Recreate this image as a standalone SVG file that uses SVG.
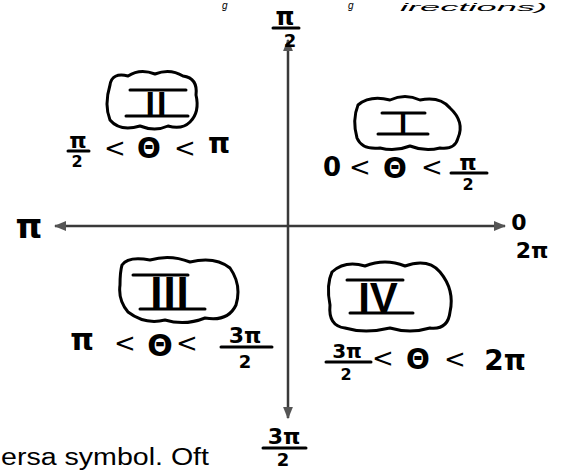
<svg xmlns="http://www.w3.org/2000/svg" width="563" height="471" viewBox="0 0 563 471">
<style>
.t{font-family:"DejaVu Sans","Liberation Sans",sans-serif;font-weight:bold;fill:#000;text-anchor:middle}
.lt{font-family:"DejaVu Sans","Liberation Sans",sans-serif;fill:#000;text-anchor:middle}
.r{font-family:"Liberation Sans",sans-serif;font-weight:bold;fill:#000;text-anchor:middle}
.bar{stroke:#000;stroke-width:3;stroke-linecap:round}
.cloud{fill:none;stroke:#000;stroke-width:3;stroke-linejoin:round}
.axis{stroke:#3a3a3a;stroke-width:2.5;fill:none}
.pg{font-family:"Liberation Sans",sans-serif;fill:#000}
</style>
<defs>
<marker id="ah" viewBox="0 0 10 10" refX="9" refY="5" markerWidth="5" markerHeight="5" orient="auto-start-reverse">
<path d="M0,1 L10,5 L0,9 Z" fill="#555"/>
</marker>
</defs>
<rect width="563" height="471" fill="#fff"/>
<g id="page-text">
<text class="pg" x="222" y="9" font-size="10" font-style="italic">g</text>
<text class="pg" x="348" y="9" font-size="10" font-style="italic">g</text>
<text class="pg" x="400" y="11" font-size="11" font-style="italic" textLength="147" lengthAdjust="spacingAndGlyphs">irections)</text>
<text class="pg" x="1" y="465" font-size="23" textLength="208" lengthAdjust="spacingAndGlyphs">ersa symbol. Oft</text>
</g>
<g id="connectors">
<line class="axis" x1="288" y1="40" x2="288" y2="418" marker-start="url(#ah)" marker-end="url(#ah)"/>
<line class="axis" x1="55" y1="226" x2="505" y2="226" marker-start="url(#ah)" marker-end="url(#ah)"/>
</g>
<g id="label-top">
<text class="t" x="285" y="25" font-size="24">π</text>
<line class="bar" x1="273" y1="28" x2="299" y2="28"/>
<text class="t" x="290" y="47" font-size="18">2</text>
</g>
<g id="label-left"><text class="t" x="29" y="238" font-size="34">π</text></g>
<g id="label-right">
<text class="t" x="519" y="230" font-size="22">0</text>
<text class="t" x="532" y="258" font-size="22">2π</text>
</g>
<g id="label-bottom">
<text class="t" x="284" y="444" font-size="22">3π</text>
<line class="bar" x1="263" y1="448" x2="306" y2="448"/>
<text class="t" x="283" y="466" font-size="18">2</text>
</g>
<g id="quadrant-II">
<path class="cloud" d="M110,85 Q112,72 128,76 Q140,68 155,74 Q170,68 183,76 Q198,78 196,95 Q200,112 190,122 Q182,130 168,126 Q155,132 140,126 Q120,132 110,120 Q104,105 110,85 Z"/>
<line class="bar" x1="130" y1="90" x2="186" y2="90"/>
<line class="bar" x1="126" y1="116" x2="188" y2="116"/>
<text class="r" x="157" y="115" font-size="34" letter-spacing="2">II</text>
<text class="t" x="78" y="148" font-size="22">π</text>
<line class="bar" x1="68" y1="151" x2="89" y2="151"/>
<text class="t" x="77" y="167" font-size="16">2</text>
<text class="lt" x="115" y="157" font-size="26">&lt;</text>
<text class="t" x="149" y="158" font-size="28">Θ</text>
<text class="lt" x="185" y="157" font-size="26">&lt;</text>
<text class="t" x="219" y="153" font-size="28">π</text>
</g>
<g id="quadrant-I">
<path class="cloud" d="M358,105 Q370,95 390,100 Q405,93 420,100 Q440,96 450,108 Q465,122 458,138 Q455,150 440,148 Q425,152 410,146 Q395,152 380,148 Q362,150 357,138 Q352,120 358,105 Z"/>
<line class="bar" x1="382" y1="113" x2="425" y2="113"/>
<line class="bar" x1="378" y1="134" x2="428" y2="134"/>
<text class="r" x="403" y="133" font-size="29">I</text>
<text class="t" x="332" y="176" font-size="26">0</text>
<text class="lt" x="360" y="176" font-size="26">&lt;</text>
<text class="t" x="395" y="178" font-size="28">Θ</text>
<text class="lt" x="432" y="176" font-size="26">&lt;</text>
<text class="t" x="468" y="170" font-size="22">π</text>
<line class="bar" x1="451" y1="173" x2="487" y2="173"/>
<text class="t" x="468" y="190" font-size="16">2</text>
</g>
<g id="quadrant-III">
<path class="cloud" d="M122,265 Q128,256 150,260 Q170,254 190,262 Q215,256 230,268 Q242,285 236,305 Q228,322 205,318 Q185,326 165,320 Q145,325 128,312 Q118,300 120,285 Q120,272 122,265 Z"/>
<line class="bar" x1="133" y1="275" x2="188" y2="275"/>
<line class="bar" x1="140" y1="309" x2="205" y2="309"/>
<text class="r" x="170" y="308" font-size="44" letter-spacing="1">III</text>
<text class="t" x="82" y="350" font-size="30">π</text>
<text class="lt" x="125" y="352" font-size="26">&lt;</text>
<text class="t" x="160" y="356" font-size="30">Θ</text>
<text class="lt" x="187" y="352" font-size="26">&lt;</text>
<text class="t" x="245" y="343" font-size="22">3π</text>
<line class="bar" x1="221" y1="347" x2="272" y2="347"/>
<text class="t" x="245" y="368" font-size="18">2</text>
</g>
<g id="quadrant-IV">
<path class="cloud" d="M332,272 Q345,260 365,266 Q385,258 405,266 Q428,258 440,272 Q455,290 450,312 Q448,330 430,328 Q410,334 390,328 Q365,334 345,328 Q328,326 330,305 Q326,285 332,272 Z"/>
<line class="bar" x1="347" y1="280" x2="403" y2="280"/>
<line class="bar" x1="350" y1="313" x2="413" y2="313"/>
<text class="r" x="378" y="312" font-size="42">IV</text>
<text class="t" x="347" y="358" font-size="20">3π</text>
<line class="bar" x1="326" y1="362" x2="371" y2="362"/>
<text class="t" x="346" y="380" font-size="16">2</text>
<text class="lt" x="383" y="367" font-size="26">&lt;</text>
<text class="t" x="418" y="369" font-size="28">Θ</text>
<text class="lt" x="455" y="368" font-size="26">&lt;</text>
<text class="t" x="505" y="370" font-size="28">2π</text>
</g>
</svg>
